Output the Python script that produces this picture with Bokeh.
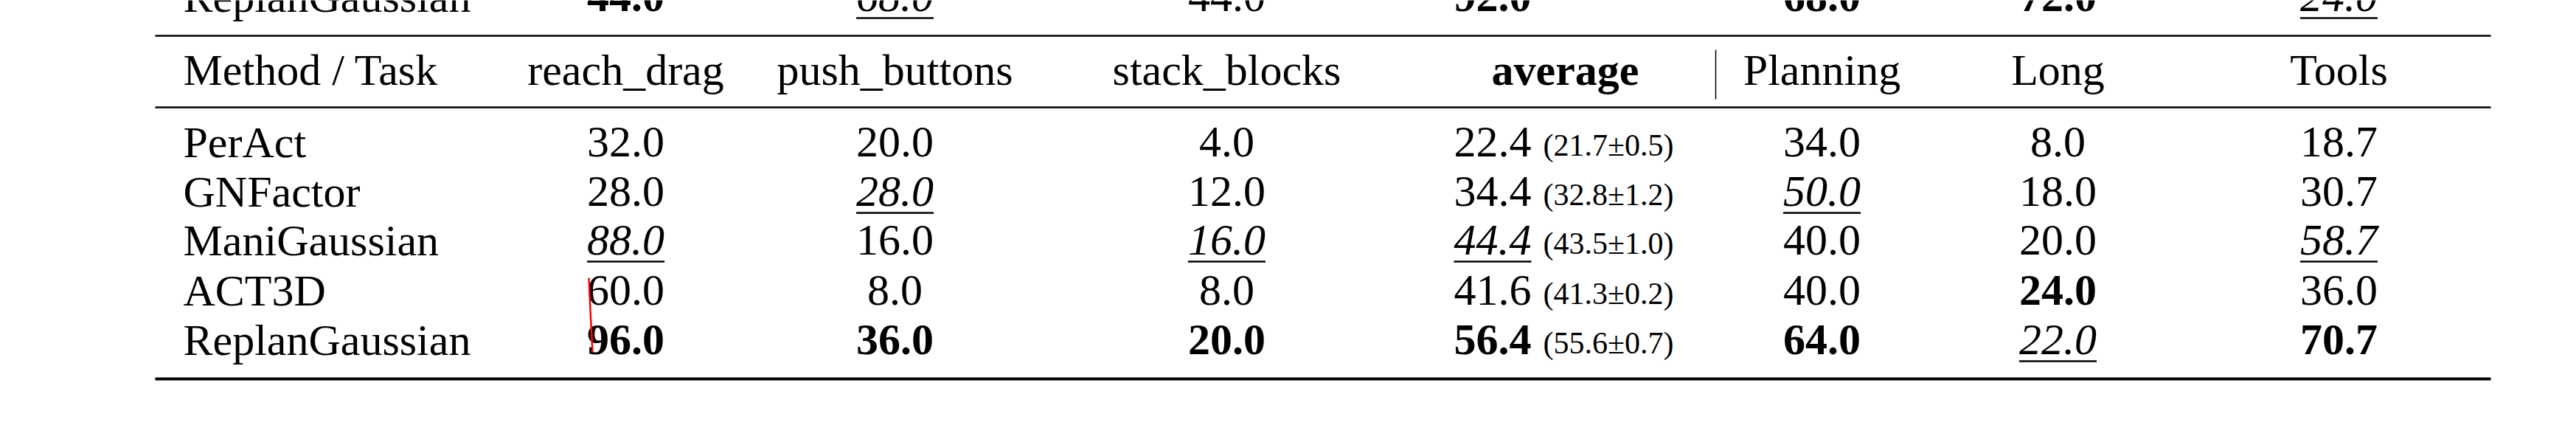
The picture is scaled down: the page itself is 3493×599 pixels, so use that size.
from bokeh.plotting import figure
from bokeh.embed import file_html
from bokeh.resources import INLINE
from bokeh.models import ColumnDataSource
from bokeh.core.properties import value

methods = ['PerAct', 'GNFactor', 'ManiGaussian', 'ACT3D', 'ReplanGaussian']
headers = ['reach_drag', 'push_buttons', 'stack_blocks', 'average', 'Planning', 'Long', 'Tools']
reach_drag = [32.0, 28.0, 88.0, 60.0, 96.0]
push_buttons = [20.0, 28.0, 16.0, 8.0, 36.0]
stack_blocks = [4.0, 12.0, 16.0, 8.0, 20.0]
average = [22.4, 34.4, 44.4, 41.6, 56.4]
average_runs = ['(21.7±0.5)', '(32.8±1.2)', '(43.5±1.0)', '(41.3±0.2)', '(55.6±0.7)']
planning = [34.0, 50.0, 40.0, 40.0, 64.0]
long_h = [8.0, 18.0, 20.0, 24.0, 22.0]
tools = [18.7, 30.7, 58.7, 36.0, 70.7]
# previous table's last row, cut off at the top
prev_row = [44.0, 68.0, 44.0, 92.0, 68.0, 72.0, 24.0]
prev_marks = ['b', 'u', '', 'b', 'b', 'b', 'u']

columns = [reach_drag, push_buttons, stack_blocks, average, planning, long_h, tools]

FONT = value("Liberation Serif")
FS = 60
SHIFT = 20  # text sits lower than its anchor in the svg output
col_x = [848, 1213, 1663, 2076, 2470, 2790, 3171]
row_y = [212, 279, 345, 413, 480]
head_y = 114
left, right = 210, 3377


def marks(vals):
    hi = max(vals)
    second = sorted(set(vals))[-2]
    return ['b' if v == hi else ('u' if v == second else '') for v in vals]


def text_w(s, size=FS):
    return sum(0.25 if c == '.' else 0.5 for c in s) * size


p = figure(width=3477, height=583, x_range=(0, 3477), y_range=(583, 0),
           output_backend="svg", toolbar_location=None, min_border=0)
p.axis.visible = False
p.grid.visible = False
p.outline_line_color = None

xs, ys, txt, styles, aligns = [], [], [], [], []
ux0, ux1, uy = [], [], []


def cell(x, y, s, m, align='center'):
    xs.append(x); ys.append(y - SHIFT); txt.append(s)
    styles.append('bold' if m == 'b' else ('italic' if m == 'u' else 'normal'))
    aligns.append(align)
    if m == 'u':
        w = text_w(s)
        x0 = x - w / 2 if align == 'center' else x - w
        ux0.append(x0); ux1.append(x0 + w); uy.append(y + 9)


for i, (vals, m) in enumerate(zip(prev_row, prev_marks)):
    cell(col_x[i], 15, f'{vals:.1f}', m, 'right' if i == 3 else 'center')
cell(248, 15, 'ReplanGaussian', '', 'left')

cell(248, head_y, 'Method / Task', '', 'left')
for i, h in enumerate(headers):
    x = 2122 if h == 'average' else col_x[i]
    cell(x, head_y, h, 'b' if h == 'average' else '', 'center')

for r, name in enumerate(methods):
    cell(248, row_y[r], name, '', 'left')
for c, vals in enumerate(columns):
    mk = marks(vals)
    for r, v in enumerate(vals):
        cell(col_x[c], row_y[r], f'{v:.1f}', mk[r], 'right' if c == 3 else 'center')

src = ColumnDataSource(dict(x=xs, y=ys, text=txt, style=styles, align=aligns))
p.text('x', 'y', text='text', source=src, text_font=FONT, text_font_size=f'{FS}px',
       text_font_style='style', text_align='align', text_baseline='alphabetic', text_color='black')

p.text(x=[2092] * 5, y=[y - SHIFT + 4 for y in row_y], text=average_runs, text_font=FONT,
       text_font_size='42px', text_align='left', text_baseline='alphabetic', text_color='black')

p.segment(x0=ux0, y0=uy, x1=ux1, y1=uy, line_color='black', line_width=2.5)

# rules
p.segment(x0=[left, left], y0=[48, 145], x1=[right, right], y1=[48, 145],
          line_color='black', line_width=2.5)
p.segment(x0=[left], y0=[513], x1=[right], y1=[513], line_color='black', line_width=4)
p.segment(x0=[2326], y0=[67], x1=[2326], y1=[134], line_color='black', line_width=1.5)

# red pen stroke over the ReplanGaussian reach_drag cell
p.line(x=[798, 800, 803], y=[376, 420, 477], line_color='red', line_width=2.5)

open("out.html", "w").write(file_html(p, INLINE))
